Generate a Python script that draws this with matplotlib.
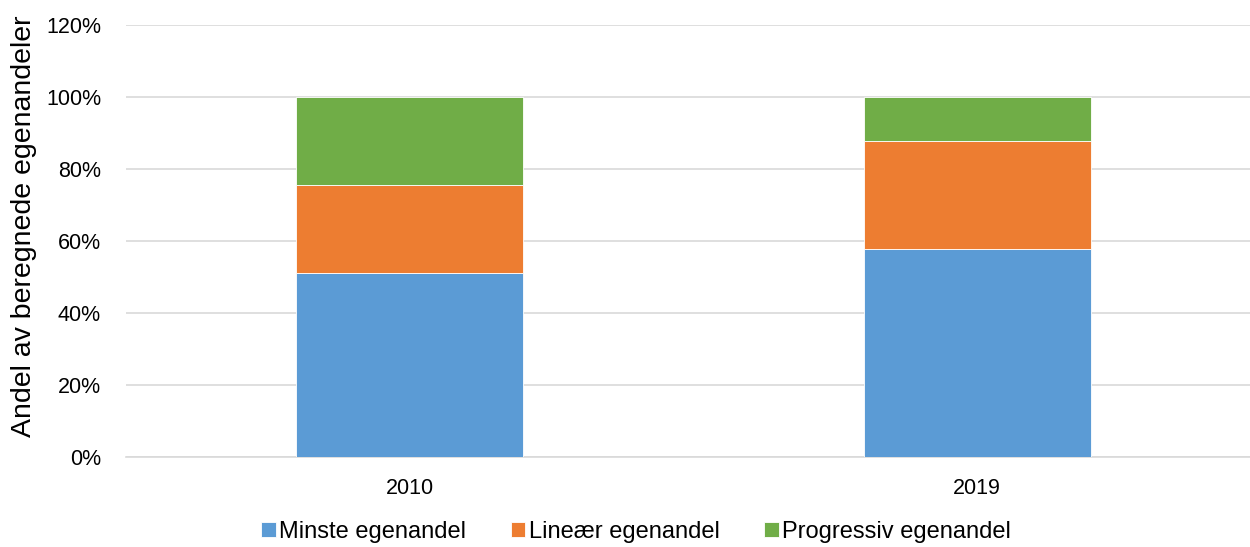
import numpy as np
import matplotlib.pyplot as plt
from matplotlib.ticker import PercentFormatter

plt.rcParams["font.family"] = ["Liberation Sans", "DejaVu Sans"]

years = ["2010", "2019"]
minste = [51.2, 57.7]
lineaer = [24.4, 30.0]
progressiv = [24.4, 12.3]
series_names = ["Minste egenandel", "Lineær egenandel", "Progressiv egenandel"]
colors = ["#5b9bd5", "#ed7d31", "#70ad47"]

fig = plt.figure(figsize=(12.5, 5.47), dpi=100)
ax = fig.add_axes([126 / 1250, 1 - 457 / 547, 1135 / 1250, 432 / 547])

x = np.arange(len(years))
bottom = np.zeros(len(years))
handles = []
for name, vals, c in zip(series_names, [minste, lineaer, progressiv], colors):
    h = ax.bar(x, vals, width=0.4, bottom=bottom, color=c, label=name,
               edgecolor="white", linewidth=0.6, zorder=3)
    handles.append(h)
    bottom += np.array(vals)

ax.set_xlim(-0.5, 1.5)
ax.set_ylim(0, 120)
ax.set_yticks(np.arange(0, 121, 20))
ax.yaxis.set_major_formatter(PercentFormatter(decimals=0))
ax.set_xticks(x)
ax.set_xticklabels(years)
ax.grid(axis="y", color="#d9d9d9", lw=1.2, zorder=0)
for s in ["top", "right", "left"]:
    ax.spines[s].set_visible(False)
ax.spines["bottom"].set_color("#d9d9d9")
ax.spines["bottom"].set_linewidth(1.2)
ax.tick_params(axis="both", length=0, labelsize=15.5, colors="black")
ax.tick_params(axis="x", pad=15)
ax.tick_params(axis="y", pad=18)

# y label placed by hand like the original
fig.text(24 / 1250, 1 - 226 / 547, "Andel av beregnede egenandeler",
         rotation=90, ha="center", va="center", fontsize=20.5)

fig.legend(handles=handles, loc="center", bbox_to_anchor=(0.509, 0.027),
           ncol=3, frameon=False, fontsize=17, handlelength=0.6,
           handleheight=0.6, handletextpad=0.15, columnspacing=1.9)

fig.savefig("out.png", dpi=100)
plt.close()
